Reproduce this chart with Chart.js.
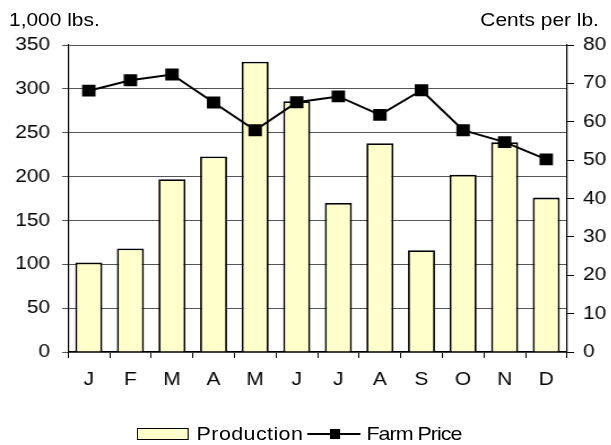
<!DOCTYPE html>
<html>
<head>
<meta charset="utf-8">
<script src="https://cdn.jsdelivr.net/npm/chart.js@4/dist/chart.umd.min.js"></script>
<style>
  body { margin: 0; background: #fff; font-family: 'Liberation Sans', Arial, sans-serif; overflow: hidden; }
  /* the reference is stretched sideways, so the whole drawing is too */
  #wrap { position: relative; width: 541px; height: 445px; transform: scaleX(1.13); transform-origin: 0 0; }
  canvas { display: block; }
  .unit { position: absolute; top: 9px; font-size: 18.5px; line-height: 22px; color: #000; white-space: nowrap; }
  #legend { position: absolute; top: 423px; left: 121px; height: 22px; display: flex; align-items: center; font-size: 19px; color: #000; white-space: nowrap; }
  .swatch { width: 44px; height: 10px; background: #FFFFCC; border: 1.6px solid #000; margin-right: 7px; }
  .lineKey { position: relative; width: 47px; height: 2px; background: #000; margin: 0 5px 0 4px; }
  .lineKey::after { content: ''; position: absolute; left: 20px; top: -4px; width: 9px; height: 10px; background: #000; }
</style>
</head>
<body>
<div id="wrap">
  <canvas id="c" width="541" height="445"></canvas>
  <div class="unit" style="left:8px;">1,000 lbs.</div>
  <div class="unit" style="right:11px;">Cents per lb.</div>
  <div id="legend">
    <div class="swatch"></div><span style="letter-spacing:0.35px;">Production</span>
    <div class="lineKey"></div><span style="letter-spacing:-0.9px;">Farm Price</span>
  </div>
</div>
<script>
const months = ['J', 'F', 'M', 'A', 'M', 'J', 'J', 'A', 'S', 'O', 'N', 'D'];
const production = [102, 118, 197, 223, 331, 286, 170, 238, 116, 202, 239, 176];
const farmPrice = [68.1, 70.8, 72.3, 65.0, 57.8, 65.1, 66.6, 61.8, 68.2, 57.8, 54.7, 50.2];

const tickFont = { family: 'Liberation Sans', size: 18.5 };

new Chart(document.getElementById('c'), {
  data: {
    labels: months,
    datasets: [
      {
        type: 'line', label: 'Farm Price', data: farmPrice, yAxisID: 'yR', order: 0,
        borderColor: '#000', borderWidth: 2, backgroundColor: '#000',
        pointStyle: 'rect', pointRadius: 7, pointHoverRadius: 7, tension: 0
      },
      {
        type: 'bar', label: 'Production', data: production, yAxisID: 'y', order: 1,
        backgroundColor: '#FFFFCC', borderColor: '#000', borderWidth: 1.8,
        barPercentage: 0.65, categoryPercentage: 1
      }
    ]
  },
  options: {
    responsive: false,
    animation: false,
    layout: { padding: { top: 45, bottom: 53, left: 0, right: 0 } },
    plugins: { legend: { display: false }, tooltip: { enabled: false } },
    scales: {
      x: {
        offset: true,
        grid: { offset: true, drawOnChartArea: false, color: '#000', tickLength: 6 },
        border: { color: '#000', width: 1.2 },
        ticks: { color: '#000', font: tickFont, padding: 11 },
        afterFit: s => { s.height = 40; }
      },
      y: {
        position: 'left', min: 0, max: 350,
        ticks: { stepSize: 50, color: '#000', font: tickFont, padding: 10.6 },
        grid: { color: '#555', tickLength: 5.3 },
        border: { color: '#000', width: 1.2 },
        afterFit: s => { s.width = 60.2; }
      },
      yR: {
        position: 'right', min: 0, max: 80,
        ticks: { stepSize: 10, color: '#000', font: tickFont, padding: 8 },
        grid: { drawOnChartArea: false, color: '#000', tickLength: 6.2 },
        border: { color: '#000', width: 1.2 },
        afterFit: s => { s.width = 39.2; }
      }
    }
  }
});
</script>
</body>
</html>
